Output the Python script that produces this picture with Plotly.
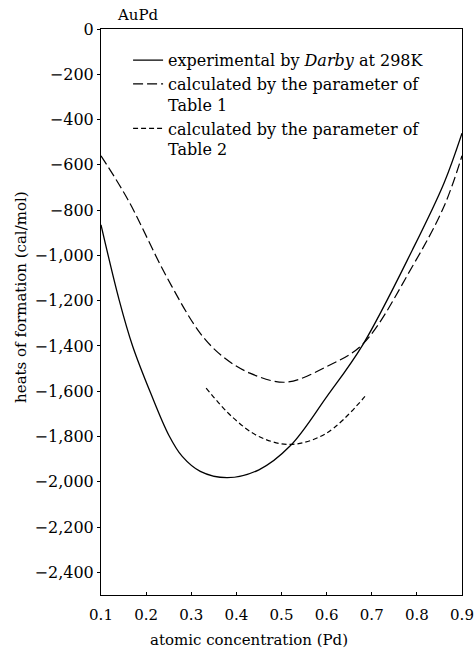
import plotly.graph_objects as go

# Experimental (Darby, 298K)
exp_x = [0.10, 0.14, 0.17, 0.21, 0.25, 0.28, 0.32, 0.38, 0.45, 0.52, 0.60, 0.68, 0.79, 0.86, 0.90]
exp_y = [-865, -1195, -1400, -1608, -1793, -1888, -1954, -1982, -1947, -1840, -1625, -1395, -976, -681, -460]

# Calculated by parameter of Table 1
t1_x = [0.10, 0.16, 0.245, 0.32, 0.37, 0.43, 0.51, 0.60, 0.68, 0.79, 0.86, 0.90]
t1_y = [-560, -755, -1093, -1344, -1447, -1520, -1560, -1491, -1392, -1049, -784, -560]

# Calculated by parameter of Table 2
t2_x = [0.333, 0.39, 0.45, 0.52, 0.60, 0.685]
t2_y = [-1586, -1712, -1800, -1835, -1785, -1623]

x_ticks = [0.1, 0.2, 0.3, 0.4, 0.5, 0.6, 0.7, 0.8, 0.9]
x_ticktext = ["0.1", "0.2", "0.3", "0.4", "0.5", "0.6", "0.7", "0.8", "0.9"]
y_ticks = [0, -200, -400, -600, -800, -1000, -1200, -1400, -1600, -1800, -2000, -2200, -2400]
y_ticktext = ["0", "−200", "−400", "−600", "−800", "−1,000", "−1,200", "−1,400",
              "−1,600", "−1,800", "−2,000", "−2,200", "−2,400"]

FONT = "DejaVu Serif"

fig = go.Figure()
fig.add_trace(go.Scatter(x=exp_x, y=exp_y, mode="lines", line=dict(color="black", width=1.3, shape="spline"),
                         name="experimental by <i>Darby</i> at 298K"))
fig.add_trace(go.Scatter(x=t1_x, y=t1_y, mode="lines",
                         line=dict(color="black", width=1.2, dash="10px,4px", shape="spline"),
                         name="calculated by the parameter of<br>Table 1"))
fig.add_trace(go.Scatter(x=t2_x, y=t2_y, mode="lines",
                         line=dict(color="black", width=1.2, dash="5px,3px", shape="spline"),
                         name="calculated by the parameter of<br>Table 2"))

fig.update_layout(
    width=476, height=653,
    margin=dict(l=101, r=14, t=29, b=58),
    paper_bgcolor="white", plot_bgcolor="white",
    font=dict(family=FONT, size=15, color="black"),
    showlegend=True,
    legend=dict(x=0.075, y=0.975, xanchor="left", yanchor="top", bgcolor="rgba(0,0,0,0)",
                font=dict(family=FONT, size=16), valign="top", tracegroupgap=0),
    xaxis=dict(range=[0.1, 0.9], tickvals=x_ticks, ticktext=x_ticktext, showgrid=False, zeroline=False,
               showline=True, mirror=True, linecolor="black", linewidth=1, automargin=False,
               ticks="inside", ticklen=3, tickcolor="black", ticklabeloverflow="allow",
               ticklabelstandoff=6, tickfont=dict(family=FONT, size=15)),
    yaxis=dict(range=[-2500, 0], tickvals=y_ticks, ticktext=y_ticktext, showgrid=False, zeroline=False,
               showline=True, mirror=True, linecolor="black", linewidth=1, automargin=False,
               ticks="outside", ticklen=3, tickcolor="black", tickfont=dict(family=FONT, size=16)),
    annotations=[
        dict(text="AuPd", xref="paper", yref="paper", x=0.039, y=1.0247, xanchor="left", yanchor="middle",
             showarrow=False, font=dict(family=FONT, size=15)),
        dict(text="atomic concentration (Pd)", xref="paper", yref="paper", x=0.41, y=-0.0795,
             xanchor="center", yanchor="middle", showarrow=False, font=dict(family=FONT, size=15)),
        dict(text="heats of formation (cal/mol)", xref="paper", yref="paper", x=-0.2215, y=0.525,
             xanchor="center", yanchor="middle", textangle=-90, showarrow=False,
             font=dict(family=FONT, size=15)),
    ],
)

fig.write_html("out.html")
